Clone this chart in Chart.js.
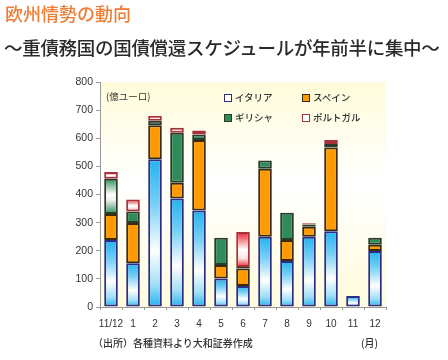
<!DOCTYPE html>
<html>
<head>
<meta charset="utf-8">
<script src="https://cdn.jsdelivr.net/npm/chart.js@4.4.0/dist/chart.umd.min.js"></script>
<style>
  html, body { margin: 0; padding: 0; background: #fff; }
  #wrap { position: relative; width: 448px; height: 360px; overflow: hidden; font-family: "Noto Sans CJK JP", "Noto Sans", sans-serif; }
  canvas { position: absolute; left: 0; top: 0; }
  .t { position: absolute; white-space: nowrap; line-height: 1; }
  .sw { position: absolute; width: 6px; height: 6px; border: 1.5px solid #333; }
</style>
</head>
<body>
<div id="wrap">
  <canvas id="c" width="448" height="360"></canvas>
  <div class="t" style="left:5px;top:4px;font-size:18px;font-weight:500;color:#ef7d35;">欧州情勢の動向</div>
  <div class="t" style="left:4px;top:38px;font-size:18.5px;font-weight:500;color:#2a2a2a;letter-spacing:-0.3px;">～重債務国の国債償還スケジュールが年前半に集中～</div>
  <div class="t" style="left:106px;top:92px;font-size:9.5px;color:#333;">(億ユーロ)</div>
  <div id="legend"></div>
  <div class="t" style="left:93px;top:338px;font-size:10px;font-weight:500;color:#333;">（出所）各種資料より大和証券作成</div>
  <div class="t" style="left:361px;top:338px;font-size:10px;font-weight:500;color:#333;">(月)</div>
</div>
<script>
const categories = ['11/12','1','2','3','4','5','6','7','8','9','10','11','12'];
const seriesNames = ['イタリア','スペイン','ギリシャ','ポルトガル'];
const italy    = [238,156,525,386,343,101, 75,250,164,250,269,39,199];
const spain    = [ 93,143,121, 56,251, 48, 62,242, 74, 35,298, 0, 22];
const greece   = [125, 41, 16,178, 19, 97,  5, 29, 97,  8, 13, 0, 25];
const portugal = [ 24, 42, 18, 17, 15,  0,125,  0,  0,  5, 14, 0,  0];
const yTicks = [0,100,200,300,400,500,600,700,800];

const allSeries = [italy, spain, greece, portugal];

function segPixels(chart, dsIndex, i) {
  let start = 0;
  for (let k = 0; k < dsIndex; k++) start += allSeries[k][i];
  const end = start + allSeries[dsIndex][i];
  const y = chart.scales.y;
  return [y.getPixelForValue(end), y.getPixelForValue(start)];
}
function grad(stops, solid) {
  return function(ctx) {
    const chart = ctx.chart;
    if (!chart.chartArea || ctx.dataIndex === undefined) return solid;
    const [top, bottom] = segPixels(chart, ctx.datasetIndex, ctx.dataIndex);
    if (!(bottom > top)) return solid;
    const g = chart.ctx.createLinearGradient(0, top, 0, bottom);
    stops.forEach(s => g.addColorStop(s[0], s[1]));
    return g;
  };
}
const blueGrad = grad([[0,'#22b2ee'],[0.3,'#76d0f5'],[0.62,'#ffffff'],[0.85,'#a0dff8'],[1,'#22b2ee']], '#7fd3f5');
const redGrad = grad([[0,'#e8202e'],[0.5,'#ffffff'],[0.75,'#ffe4e6'],[1,'#e8202e']], '#f08890');
const greenGradFn = grad([[0,'#2f8c5a'],[0.45,'#ffffff'],[0.6,'#f2f2f2'],[1,'#2f8c5a']], '#2f8c5a');
const greenFill = function(ctx) { return ctx.dataIndex === 0 ? greenGradFn(ctx) : '#2f8c5a'; };

const plotBg = {
  id: 'plotBg',
  beforeDraw(chart) {
    const a = chart.chartArea, c = chart.ctx;
    const g = c.createLinearGradient(0, a.top, 0, a.bottom);
    g.addColorStop(0, '#fffcda');
    g.addColorStop(0.45, '#ffffff');
    g.addColorStop(1, '#fffbdc');
    c.save(); c.fillStyle = g; c.fillRect(a.left, a.top, a.right - a.left, a.bottom - a.top); c.restore();
  }
};

const common = { borderWidth: 2, borderSkipped: false, barPercentage: 0.62, categoryPercentage: 1.0 };
const chart = new Chart(document.getElementById('c'), {
  type: 'bar',
  data: {
    labels: categories,
    datasets: [
      Object.assign({ label: seriesNames[0], data: italy, backgroundColor: blueGrad, borderColor: '#2d2d84' }, common),
      Object.assign({ label: seriesNames[1], data: spain, backgroundColor: '#ff9a00', borderColor: '#3a2a10' }, common),
      Object.assign({ label: seriesNames[2], data: greece, backgroundColor: greenFill, borderColor: '#2b3a2b' }, common),
      Object.assign({ label: seriesNames[3], data: portugal, backgroundColor: redGrad, borderColor: '#a8323a' }, common)
    ]
  },
  options: {
    responsive: false,
    animation: false,
    devicePixelRatio: 1,
    layout: { padding: { left: 0, top: 82, right: 62, bottom: 0 } },
    plugins: { legend: { display: false }, tooltip: { enabled: false }, title: { display: false } },
    scales: {
      x: {
        stacked: true,
        afterFit(s) { s.height = 53; },
        grid: { display: true, drawOnChartArea: false, offset: true, tickLength: 3, color: '#999' },
        border: { display: true, color: '#999', width: 1 },
        ticks: { color: '#333', padding: 8, font: { family: 'Liberation Sans', size: 10 }, maxRotation: 0, autoSkip: false }
      },
      y: {
        stacked: true,
        min: 0, max: 800,
        afterFit(s) { s.width = 100; },
        afterBuildTicks(s) { s.ticks = yTicks.map(v => ({ value: v })); },
        grid: { display: true, drawOnChartArea: false, tickLength: 4, color: '#999' },
        border: { display: true, color: '#999', width: 1 },
        ticks: { color: '#333', padding: 3, font: { family: 'Liberation Sans', size: 10.5 } }
      }
    }
  },
  plugins: [plotBg]
});

// legend (HTML text built from series names)
const legendItems = [
  { name: seriesNames[0], x: 224, y: 93, fill: '#ffffff', border: '#2d2d84' },
  { name: seriesNames[1], x: 302, y: 93, fill: '#ff9a00', border: '#3a2a10' },
  { name: seriesNames[2], x: 224, y: 113, fill: '#2f8c5a', border: '#2b3a2b' },
  { name: seriesNames[3], x: 302, y: 113, fill: '#ffffff', border: '#a8323a' }
];
const lg = document.getElementById('legend');
legendItems.forEach(it => {
  const s = document.createElement('div');
  s.className = 'sw';
  s.style.left = it.x + 'px'; s.style.top = (it.y + 1) + 'px';
  s.style.background = it.fill; s.style.borderColor = it.border;
  lg.appendChild(s);
  const t = document.createElement('div');
  t.className = 't';
  t.style.left = (it.x + 11) + 'px'; t.style.top = it.y + 'px';
  t.style.fontSize = '9.5px'; t.style.fontWeight = '500'; t.style.color = '#333';
  t.textContent = it.name;
  lg.appendChild(t);
});
</script>
</body>
</html>
